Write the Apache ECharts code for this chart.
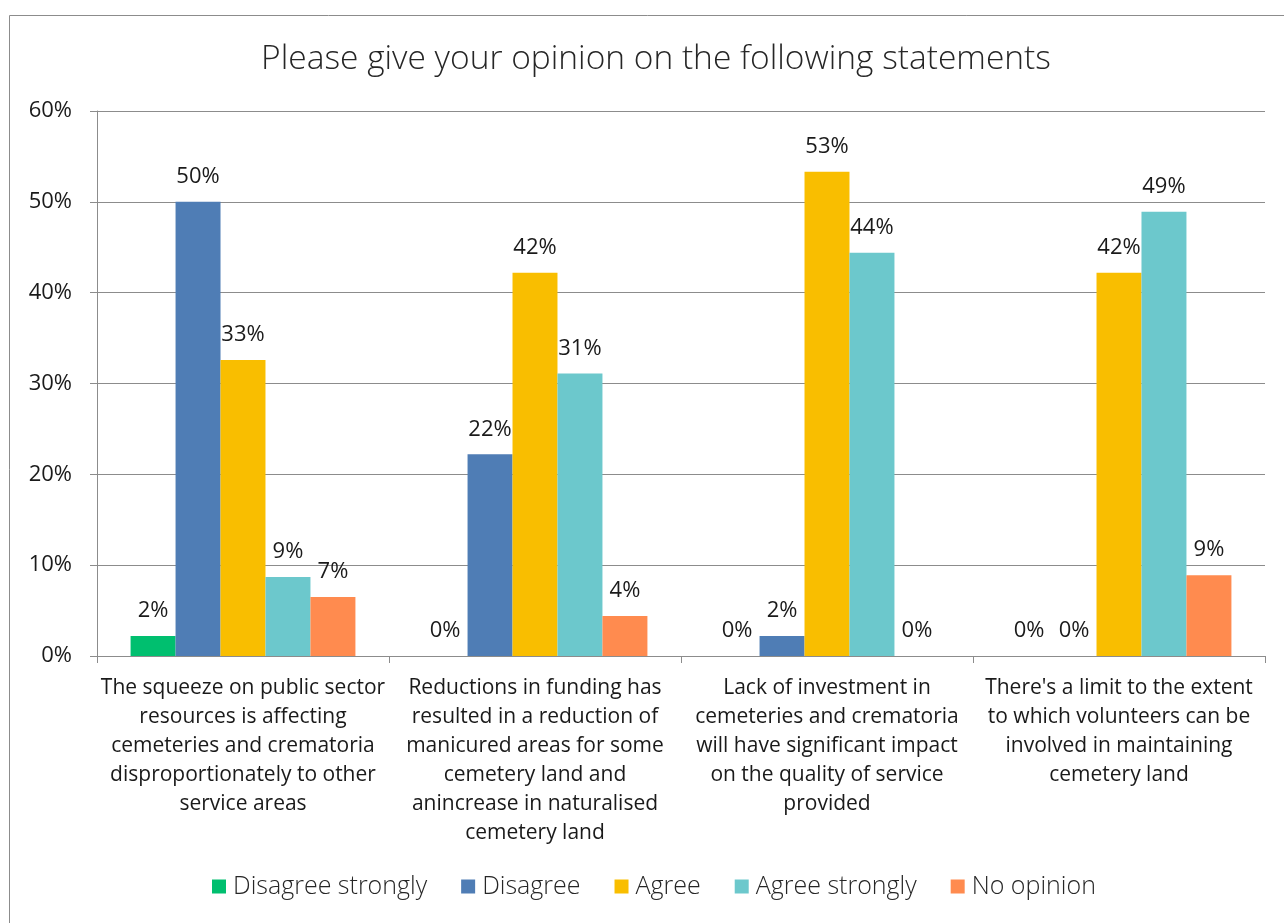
<!DOCTYPE html>
<html>
<head>
<meta charset="utf-8">
<script src="https://cdn.jsdelivr.net/npm/echarts@6/dist/echarts.min.js"></script>
<style>
  html, body { margin: 0; padding: 0; background: #fff; }
  #chart { width: 1284px; height: 923px; }
</style>
</head>
<body>
<div id="chart"></div>
<script>
// Survey statements (category axis), wrapped as printed
const statements = [
  "The squeeze on public sector\nresources is affecting\ncemeteries and crematoria\ndisproportionately to other\nservice areas",
  "Reductions in funding has\nresulted in a reduction of\nmanicured areas for some\ncemetery land and\nanincrease in naturalised\ncemetery land",
  "Lack of investment in\ncemeteries and crematoria\nwill have significant impact\non the quality of service\nprovided",
  "There's a limit to the extent\nto which volunteers can be\ninvolved in maintaining\ncemetery land"
];

// Share of respondents (%) per answer, one value per statement
const disagreeStrongly = [2.2, 0, 0, 0];
const disagree         = [50.0, 22.2, 2.2, 0];
const agree            = [32.6, 42.2, 53.3, 42.2];
const agreeStrongly    = [8.7, 31.1, 44.4, 48.9];
const noOpinion        = [6.5, 4.4, 0, 8.9];

const seriesNames  = ["Disagree strongly", "Disagree", "Agree", "Agree strongly", "No opinion"];
const seriesValues = [disagreeStrongly, disagree, agree, agreeStrongly, noOpinion];
const seriesColors = ["#00bf6f", "#4f7db5", "#f9be00", "#6cc8cc", "#ff8b4f"];

const yTicks = [0, 10, 20, 30, 40, 50, 60];

const FONT = "'Open Sans', 'Noto Sans', sans-serif";
const chart = echarts.init(document.getElementById('chart'));

chart.setOption({
  animation: false,
  textStyle: { fontFamily: FONT },
  title: {
    text: "Please give your opinion on the following statements",
    left: 651,
    top: 37,
    textAlign: 'center',
    textStyle: { fontFamily: FONT, fontSize: 33.5, fontWeight: 300, color: '#262626' }
  },
  graphic: [{
    type: 'rect',
    shape: { x: 9.5, y: 15.5, width: 1300, height: 1000 },
    style: { fill: 'none', stroke: '#8c8c8c', lineWidth: 1 },
    silent: true,
    z: -1
  }],
  legend: {
    bottom: 24,
    left: 212,
    padding: 0,
    itemWidth: 14,
    itemHeight: 14,
    itemGap: 34,
    icon: 'rect',
    textStyle: { fontFamily: FONT, fontSize: 25, fontWeight: 300, color: '#262626', padding: [0, 0, 0, 2] },
    data: seriesNames
  },
  grid: { left: 97, right: 19, top: 111, bottom: 267, containLabel: false },
  xAxis: {
    type: 'category',
    data: statements,
    axisLine: { lineStyle: { color: '#8c8c8c', width: 1 } },
    axisTick: { show: true, length: 7, lineStyle: { color: '#8c8c8c' } },
    axisLabel: {
      interval: 0,
      margin: 18,
      fontFamily: FONT,
      fontSize: 21,
      lineHeight: 29,
      color: '#1a1a1a',
      align: 'center'
    }
  },
  yAxis: {
    type: 'value',
    min: yTicks[0],
    max: yTicks[yTicks.length - 1],
    interval: 10,
    axisLine: { show: true, lineStyle: { color: '#8c8c8c', width: 1 } },
    axisTick: { show: true, length: 7, lineStyle: { color: '#8c8c8c' } },
    splitLine: { lineStyle: { color: '#8c8c8c', width: 1 } },
    axisLabel: {
      margin: 25,
      fontFamily: FONT,
      fontSize: 22,
      color: '#1a1a1a',
      formatter: v => v + '%'
    }
  },
  series: seriesNames.map((name, i) => ({
    name,
    type: 'bar',
    data: seriesValues[i],
    barGap: '0%',
    barCategoryGap: '23%',
    itemStyle: { color: seriesColors[i] },
    label: {
      show: true,
      position: 'top',
      distance: 14,
      fontFamily: FONT,
      fontSize: 22,
      color: '#1a1a1a',
      formatter: p => Math.round(p.value) + '%'
    }
  }))
});
</script>
</body>
</html>
